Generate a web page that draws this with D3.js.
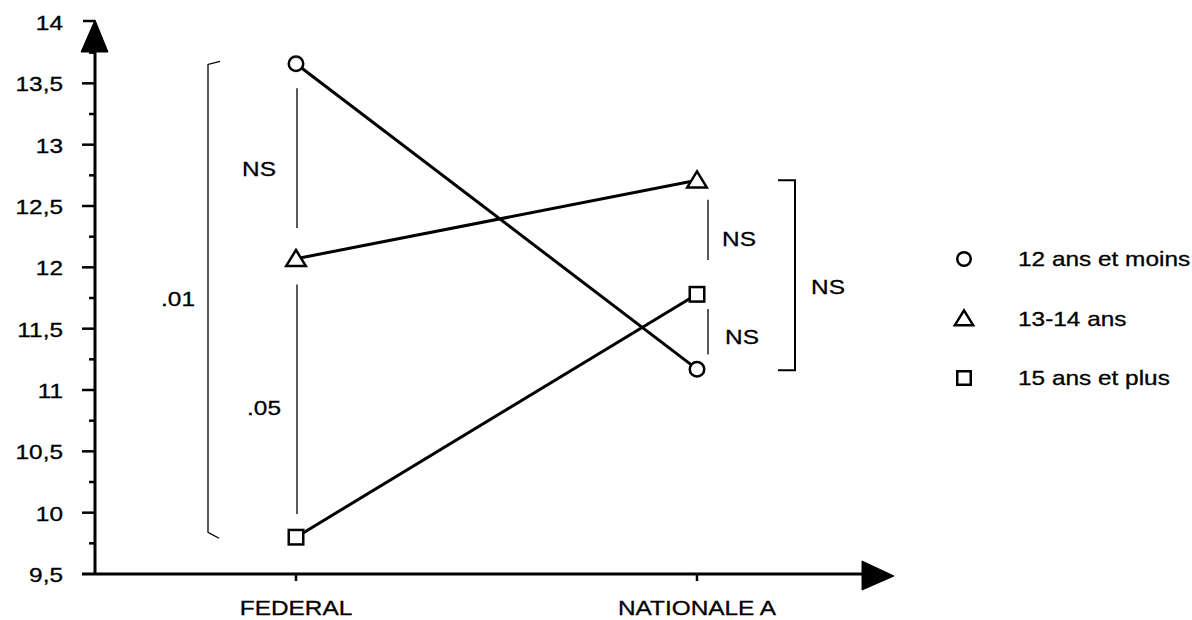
<!doctype html>
<meta charset="utf8">
<style>
  body { margin: 0; background: #fff; }
  svg text { font-family: "Liberation Sans", Arial, sans-serif; fill: #000; stroke: #000; stroke-width: 0.3px; }
</style>
<body>
<div id="chart"></div>
<script src="https://d3js.org/d3.v7.min.js"></script>
<script>
(function() {

const CATEGORIES = ["FEDERAL", "NATIONALE A"];
const GROUPS = ["12 ans et moins", "13-14 ans", "15 ans et plus"];
const SYMBOLS = ["circle", "triangle", "square"];
const VALUES_12 = [13.66, 11.17];
const VALUES_13_14 = [12.07, 12.71];
const VALUES_15 = [9.8, 11.78];
const SERIES = [VALUES_12, VALUES_13_14, VALUES_15];
const Y_TICKS = [9.5, 10, 10.5, 11, 11.5, 12, 12.5, 13, 13.5, 14];
const Y_LABELS = ["9,5", "10", "10,5", "11", "11,5", "12", "12,5", "13", "13,5", "14"];

// significance marks: [category, from, to, label]
const TESTS_INNER = [
  ["FEDERAL", 13.46, 12.32, "NS"],
  ["FEDERAL", 11.86, 9.99, ".05"],
  ["NATIONALE A", 12.55, 12.06, "NS"],
  ["NATIONALE A", 11.66, 11.29, "NS"],
];
const TESTS_OUTER = [
  ["FEDERAL", 13.67, 9.84, ".01"],
  ["NATIONALE A", 12.71, 11.16, "NS"],
];

const W = 1192, H = 620;
const STRETCH = 1.22;

const svg = d3.select("#chart").append("svg")
  .attr("width", W)
  .attr("height", H);

const x = d3.scalePoint().domain(CATEGORIES).range([296, 697]);
const y = d3.scaleLinear().domain([9.5, 14]).range([574, 22]);

function label(g, text, tx, ty, anchor) {
  return g.append("text")
    .attr("transform", `translate(${tx},${ty}) scale(${STRETCH},1)`)
    .attr("text-anchor", anchor || "middle")
    .attr("dy", "0.35em")
    .style("font-size", "20px")
    .text(text);
}

// axes
const axis = svg.append("g").attr("stroke", "#000");
const x0 = 95;
axis.append("line")
  .attr("x1", x0).attr("x2", x0)
  .attr("y1", y(9.5) + 1).attr("y2", y(14) + 20)
  .attr("stroke-width", 3);
axis.append("path")
  .attr("d", `M${x0},${y(14) - 2} L${x0 + 13},${y(14) + 30} L${x0 - 14},${y(14) + 30} Z`)
  .attr("fill", "#000");
axis.append("line")
  .attr("x1", x0 - 12).attr("x2", x0)
  .attr("y1", y(14) - 1).attr("y2", y(14) - 1)
  .attr("stroke-width", 2.5);

for (const v of d3.range(9.75, 14, 0.25)) {
  const major = Y_TICKS.includes(v);
  axis.append("line")
    .attr("x1", major ? x0 - 13 : x0 - 6).attr("x2", x0)
    .attr("y1", y(v)).attr("y2", y(v))
    .attr("stroke-width", 2.5);
}

axis.append("line")
  .attr("x1", x0 - 13).attr("x2", 865)
  .attr("y1", y(9.5)).attr("y2", y(9.5))
  .attr("stroke-width", 3);
axis.append("path")
  .attr("d", `M862,${y(9.5) - 13} L894,${y(9.5) + 2} L862,${y(9.5) + 16} Z`)
  .attr("fill", "#000");

for (const c of CATEGORIES) {
  axis.append("line")
    .attr("x1", x(c)).attr("x2", x(c))
    .attr("y1", y(9.5)).attr("y2", y(9.5) + 7)
    .attr("stroke-width", 2.5);
}

const labels = svg.append("g");
Y_TICKS.forEach((v, i) => label(labels, Y_LABELS[i], 63, y(v) + 1, "end"));
CATEGORIES.forEach(c => label(labels, c, x(c), 608));

// significance marks
const tests = svg.append("g").attr("stroke", "#000").attr("fill", "none");
const innerLine = [1, 1, 11, 11];
const innerNudge = [[-38, 11], [-33, 9], [31, 9], [34, 5]];
TESTS_INNER.forEach(([c, a, b, t], i) => {
  const cx = x(c) + innerLine[i];
  tests.append("line")
    .attr("x1", cx).attr("x2", cx)
    .attr("y1", y(a)).attr("y2", y(b))
    .attr("stroke-width", 1.3);
  label(labels, t, cx + innerNudge[i][0], (y(a) + y(b)) / 2 + innerNudge[i][1]);
});

// outer brackets
{
  const [c, a, b, t] = TESTS_OUTER[0];
  const bx = x(c) - 88;
  tests.append("path")
    .attr("d", `M${bx + 12},${y(a) - 1} L${bx},${y(a) + 2} L${bx},${y(b)} L${bx + 11},${y(b) + 6}`)
    .attr("stroke-width", 1.3);
  label(labels, t, bx - 30, (y(a) + y(b)) / 2 + 2);
}
{
  const [c, a, b, t] = TESTS_OUTER[1];
  const bx = x(c) + 98;
  tests.append("path")
    .attr("d", `M${bx - 17},${y(a)} L${bx},${y(a)} L${bx},${y(b)} L${bx - 17},${y(b)}`)
    .attr("stroke-width", 2);
  label(labels, t, bx + 33, (y(a) + y(b)) / 2 + 12);
}

// series lines and markers
function marker(g, kind, cx, cy, s) {
  if (kind === "circle") {
    g.append("circle").attr("cx", cx).attr("cy", cy).attr("r", s * 0.5);
  } else if (kind === "triangle") {
    const w = s * 1.35, h = s * 1.1;
    g.append("path")
      .attr("d", `M${cx},${cy - h * 0.55} L${cx + w / 2},${cy + h * 0.45} L${cx - w / 2},${cy + h * 0.45} Z`);
  } else {
    g.append("rect")
      .attr("x", cx - s / 2).attr("y", cy - s / 2)
      .attr("width", s).attr("height", s);
  }
}

const plot = svg.append("g");
const line = d3.line().x((d, i) => x(CATEGORIES[i])).y(d => y(d));
SERIES.forEach(vals => {
  plot.append("path")
    .datum(vals)
    .attr("d", line)
    .attr("fill", "none")
    .attr("stroke", "#000")
    .attr("stroke-width", 3);
});
const marks = svg.append("g")
  .attr("fill", "#fff")
  .attr("stroke", "#000")
  .attr("stroke-width", 2.5);
SERIES.forEach((vals, k) => {
  vals.forEach((v, i) => marker(marks, SYMBOLS[k], x(CATEGORIES[i]), y(v), 14.5));
});

// legend
const legend = svg.append("g");
const legendMarks = legend.append("g")
  .attr("fill", "#fff")
  .attr("stroke", "#000")
  .attr("stroke-width", 2.5);
GROUPS.forEach((gname, k) => {
  const ly = 259 + k * 59.5;
  marker(legendMarks, SYMBOLS[k], 964, ly, 13.5);
  label(legend, gname, 1018, ly, "start");
});

})();
</script>
</body>
